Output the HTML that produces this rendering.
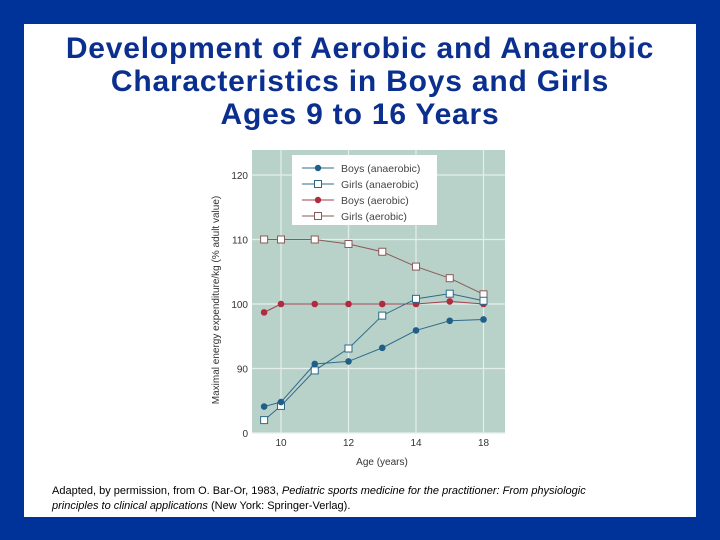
<!DOCTYPE html>
<html><head><meta charset="utf-8"><style>
body{margin:0;width:720px;height:540px;background:#003399;position:relative;overflow:hidden;font-family:"Liberation Sans",sans-serif}
#panel{position:absolute;left:24px;top:24px;width:672px;height:493px;background:#fff}
#title{position:absolute;left:24px;top:32px;width:672px;text-align:center;color:#0a2f8f;font-size:30px;font-weight:bold;line-height:33px;letter-spacing:0.8px}
#cap{position:absolute;left:52px;top:484px;font-size:11px;line-height:15px;color:#000}
svg{position:absolute;left:0;top:0}
</style></head><body>
<div id="panel"></div>
<div id="title">Development of Aerobic and Anaerobic<br>Characteristics in Boys and Girls<br>Ages 9 to 16 Years</div>
<svg id="chart" width="720" height="540"></svg>
<div id="cap">Adapted, by permission, from O. Bar-Or, 1983, <i>Pediatric sports medicine for the practitioner: From physiologic<br>principles to clinical applications</i> (New York: Springer-Verlag).</div>
<script>
const ages=[9.5,10,11,12,13,14,15,16];
const boysAnaerobic=[84.1,84.8,90.7,91.1,93.2,95.9,97.4,97.6];
const girlsAnaerobic=[82.0,84.2,89.7,93.1,98.2,100.8,101.6,100.5];
const boysAerobic=[98.7,100,100,100,100,100,100.4,100];
const girlsAerobic=[110,110,110,109.3,108.1,105.8,104,101.5];
const xTicks=[10,12,14,16];
const xTickLabels=['10','12','14','18'];
const yTicks=[80,90,100,110,120];
const yTickLabels=['0','90','100','110','120'];
const ns='http://www.w3.org/2000/svg';
const svg=document.getElementById('chart');
function X(a){return 281+(a-10)*33.75;}
function Y(v){return 433-(v-80)*6.45;}
function mk(t,attrs,parent){const e=document.createElementNS(ns,t);for(const k in attrs)e.setAttribute(k,attrs[k]);(parent||svg).appendChild(e);return e;}
const bg=mk('rect',{x:252,y:150,width:253,height:283,fill:'#b9d2c9'});


yTicks.forEach((v,i)=>{
 const g=mk('line',{x1:252,x2:505,y1:Y(v),y2:Y(v),stroke:'#e4eeea','stroke-width':1.2});
 
 
 const t=mk('text',{x:248,y:Y(v)+4,'text-anchor':'end','font-size':10,fill:'#333'});
 t.textContent=yTickLabels[i];
 
 
});
xTicks.forEach((a,i)=>{
 const g=mk('line',{x1:X(a),x2:X(a),y1:150,y2:433,stroke:'#e4eeea','stroke-width':1.2});
 
 
 const t=mk('text',{x:X(a),y:446,'text-anchor':'middle','font-size':10,fill:'#333'});
 t.textContent=xTickLabels[i];
 
 
});
const xt=mk('text',{x:382,y:465,'text-anchor':'middle','font-size':10,fill:'#333'});
xt.textContent='Age (years)';


const yt=mk('text',{x:219,y:300,'text-anchor':'middle','font-size':10,fill:'#333',transform:'rotate(-90 219 300)'});
yt.textContent='Maximal energy expenditure/kg (% adult value)';


const series=[
 {d:girlsAerobic,c:'#8a5a5a',fill:'#fff',sq:true,n:'girls-aerobic'},
 {d:boysAerobic,c:'#a04050',fill:'#b02a40',sq:false,n:'boys-aerobic'},
 {d:girlsAnaerobic,c:'#2d6a8a',fill:'#fff',sq:true,n:'girls-anaerobic'},
 {d:boysAnaerobic,c:'#2d6a8a',fill:'#1f5f8a',sq:false,n:'boys-anaerobic'}];
series.forEach(s=>{
 const pts=ages.map((a,i)=>X(a)+','+Y(s.d[i])).join(' ');
 const l=mk('polyline',{points:pts,fill:'none',stroke:s.c,'stroke-width':1});
 
 
 ages.forEach((a,i)=>{
  let m;
  if(s.sq)m=mk('rect',{x:X(a)-3.5,y:Y(s.d[i])-3.5,width:7,height:7,fill:s.fill,stroke:s.c,'stroke-width':1});
  else m=mk('circle',{cx:X(a),cy:Y(s.d[i]),r:3.3,fill:s.fill});
  
  
 });
});
const lg=mk('g',{});


mk('rect',{x:292,y:155,width:145,height:70,fill:'#fff'},lg);
const lgItems=[['Boys (anaerobic)','#2d6a8a','#1f5f8a',false],['Girls (anaerobic)','#2d6a8a','#fff',true],['Boys (aerobic)','#a04050','#b02a40',false],['Girls (aerobic)','#8a5a5a','#fff',true]];
lgItems.forEach((it,i)=>{
 const y=168+i*16;
 const e=mk('g',{},lg);
 
 
 mk('line',{x1:302,x2:334,y1:y,y2:y,stroke:it[1],'stroke-width':1},e);
 if(it[3])mk('rect',{x:314.5,y:y-3.5,width:7,height:7,fill:'#fff',stroke:it[1]},e);
 else mk('circle',{cx:318,cy:y,r:3.2,fill:it[2]},e);
 const t=mk('text',{x:341,y:y+4,'font-size':10.5,fill:'#444'},e);
 t.textContent=it[0];
});
</script>
</body></html>
